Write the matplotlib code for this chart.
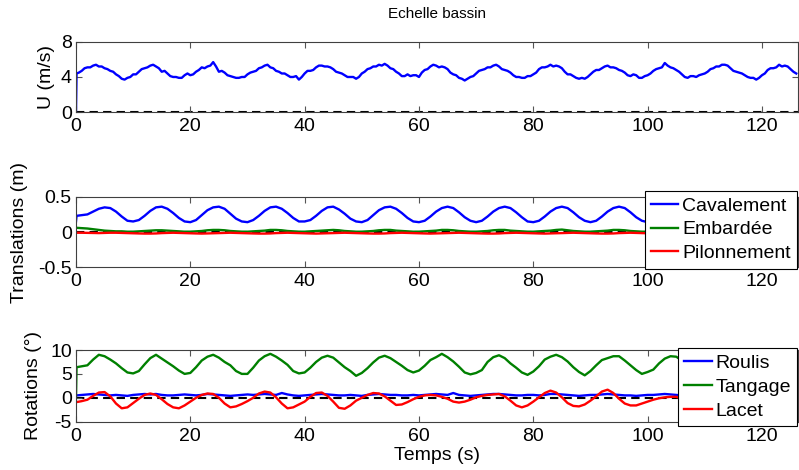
import numpy as np
import matplotlib
matplotlib.use("Agg")
import matplotlib.pyplot as plt

plt.rcParams['font.family'] = ['Liberation Sans', 'DejaVu Sans']

# time (s): initial step sample then 1 s sampling
time = np.r_[0.0, 0.1, np.arange(1, 127)]
# extra half-second samples of the wind speed (t = 0.5 ... 125.5)
time_mid = np.arange(0.5, 126, 1.0)

U = [0.0, 4.4,
     4.7, 5.1, 5.3, 5.2, 5.0, 4.7, 4.3, 3.8, 3.9, 4.3,
     4.6, 5.0, 5.3, 5.2, 4.6, 4.4, 4.0, 3.9, 4.2, 4.2,
     4.6, 5.1, 5.2, 5.7, 4.6, 4.5, 4.1, 3.9, 4.0, 4.3,
     4.6, 5.0, 5.3, 5.1, 4.7, 4.4, 4.2, 4.0, 3.7, 4.4,
     4.7, 5.1, 5.3, 5.2, 4.9, 4.5, 4.2, 4.0, 3.8, 4.4,
     4.9, 5.2, 5.4, 5.5, 5.0, 4.6, 4.1, 4.3, 4.2, 4.0,
     4.8, 5.2, 5.3, 5.2, 4.9, 4.3, 3.9, 3.6, 4.0, 4.4,
     4.8, 5.1, 5.3, 5.2, 4.8, 4.5, 4.0, 3.9, 4.1, 4.3,
     4.9, 5.1, 5.4, 5.3, 5.0, 4.3, 4.1, 3.8, 3.8, 4.3,
     4.8, 5.0, 5.3, 5.1, 4.8, 4.5, 4.1, 4.2, 3.9, 4.2,
     4.7, 5.0, 5.6, 5.1, 4.8, 4.3, 3.9, 4.1, 4.2, 4.4,
     4.9, 5.2, 5.4, 5.3, 4.7, 4.5, 4.2, 3.9, 3.7, 4.2,
     4.8, 5.0, 5.4, 5.3, 4.9, 4.4]

U_mid = [4.5,
     5.0, 5.1, 5.4, 5.2, 4.9, 4.6, 4.1, 3.7, 4.0, 4.3,
     4.9, 5.1, 5.4, 5.0, 4.7, 4.1, 4.0, 3.9, 4.4, 4.3,
     4.8, 5.0, 5.3, 5.2, 4.7, 4.2, 4.0, 3.9, 4.0, 4.5,
     4.7, 5.1, 5.4, 5.0, 4.6, 4.4, 4.0, 4.1, 4.0, 4.7,
     4.8, 5.3, 5.2, 5.1, 4.6, 4.4, 4.0, 4.0, 4.0, 4.6,
     5.0, 5.2, 5.3, 5.3, 4.9, 4.4, 4.1, 4.1, 4.2, 4.5,
     4.9, 5.4, 5.1, 5.1, 4.5, 4.2, 3.8, 3.8, 4.1, 4.7,
     4.9, 5.1, 5.4, 4.9, 4.7, 4.2, 4.0, 3.9, 4.1, 4.5,
     5.1, 5.2, 5.2, 5.2, 4.6, 4.3, 3.9, 3.9, 4.0, 4.6,
     4.8, 5.2, 5.1, 5.0, 4.7, 4.2, 4.3, 3.9, 4.1, 4.4,
     4.9, 5.1, 5.3, 5.0, 4.6, 4.0, 4.1, 4.0, 4.3, 4.6,
     5.0, 5.2, 5.4, 5.0, 4.6, 4.4, 4.0, 3.9, 3.9, 4.4,
     5.0, 5.1, 5.2, 5.2, 4.6]

cavalement = [0.15, 0.23,
     0.24, 0.25, 0.29, 0.33, 0.35, 0.34, 0.29, 0.22, 0.16, 0.15,
     0.17, 0.23, 0.30, 0.35, 0.36, 0.33, 0.27, 0.20, 0.15, 0.14,
     0.17, 0.24, 0.31, 0.35, 0.36, 0.33, 0.26, 0.19, 0.15, 0.14,
     0.17, 0.23, 0.30, 0.35, 0.36, 0.33, 0.27, 0.20, 0.15, 0.15,
     0.17, 0.23, 0.30, 0.35, 0.36, 0.32, 0.26, 0.19, 0.15, 0.14,
     0.17, 0.24, 0.31, 0.35, 0.36, 0.33, 0.27, 0.20, 0.15, 0.14,
     0.16, 0.22, 0.29, 0.34, 0.36, 0.34, 0.28, 0.21, 0.16, 0.14,
     0.16, 0.22, 0.29, 0.34, 0.36, 0.34, 0.28, 0.21, 0.15, 0.14,
     0.16, 0.22, 0.29, 0.34, 0.36, 0.34, 0.28, 0.21, 0.16, 0.14,
     0.16, 0.22, 0.29, 0.34, 0.36, 0.34, 0.28, 0.21, 0.16, 0.14,
     0.16, 0.22, 0.29, 0.34, 0.36, 0.34, 0.28, 0.21, 0.16, 0.14,
     0.16, 0.22, 0.29, 0.34, 0.36, 0.34, 0.28, 0.21, 0.16, 0.14,
     0.16, 0.22, 0.29, 0.34, 0.36, 0.34]

embardee = [0.06, 0.06,
     0.055, 0.05, 0.04, 0.03, 0.02, 0.015, 0.01, 0.01, 0.005, 0.005,
     0.01, 0.015, 0.02, 0.025, 0.025, 0.02, 0.015, 0.01, 0.005, 0.005,
     0.01, 0.015, 0.025, 0.03, 0.03, 0.025, 0.015, 0.01, 0.005, 0.005,
     0.01, 0.015, 0.02, 0.03, 0.03, 0.025, 0.015, 0.01, 0.005, 0.005,
     0.01, 0.015, 0.02, 0.025, 0.03, 0.025, 0.015, 0.01, 0.005, 0.005,
     0.01, 0.015, 0.025, 0.03, 0.03, 0.02, 0.015, 0.01, 0.005, 0.005,
     0.01, 0.015, 0.02, 0.03, 0.03, 0.025, 0.015, 0.01, 0.005, 0.005,
     0.01, 0.015, 0.025, 0.03, 0.03, 0.02, 0.015, 0.01, 0.005, 0.005,
     0.01, 0.015, 0.02, 0.03, 0.035, 0.025, 0.015, 0.01, 0.005, 0.005,
     0.01, 0.015, 0.02, 0.03, 0.03, 0.025, 0.015, 0.01, 0.005, 0.005,
     0.01, 0.015, 0.025, 0.03, 0.03, 0.02, 0.015, 0.01, 0.005, 0.005,
     0.01, 0.015, 0.02, 0.03, 0.03, 0.025, 0.015, 0.01, 0.005, 0.005,
     0.01, 0.015, 0.02, 0.03, 0.03, 0.025]

pilonnement = [-0.01, -0.01,
     -0.01, -0.012, -0.015, -0.015, -0.012, -0.01, -0.01, -0.012, -0.015, -0.018,
     -0.02, -0.022, -0.022, -0.02, -0.015, -0.012, -0.01, -0.012, -0.015, -0.018,
     -0.02, -0.022, -0.02, -0.018, -0.015, -0.012, -0.01, -0.012, -0.015, -0.018,
     -0.02, -0.022, -0.022, -0.02, -0.015, -0.012, -0.01, -0.012, -0.015, -0.018,
     -0.02, -0.022, -0.02, -0.018, -0.015, -0.012, -0.01, -0.012, -0.015, -0.018,
     -0.02, -0.022, -0.022, -0.02, -0.015, -0.012, -0.01, -0.012, -0.015, -0.018,
     -0.02, -0.022, -0.02, -0.018, -0.015, -0.012, -0.01, -0.012, -0.015, -0.018,
     -0.02, -0.022, -0.022, -0.02, -0.015, -0.012, -0.01, -0.012, -0.015, -0.018,
     -0.02, -0.022, -0.02, -0.018, -0.015, -0.012, -0.01, -0.012, -0.015, -0.018,
     -0.02, -0.022, -0.022, -0.02, -0.015, -0.012, -0.01, -0.012, -0.015, -0.018,
     -0.02, -0.022, -0.02, -0.018, -0.015, -0.012, -0.01, -0.012, -0.015, -0.018,
     -0.02, -0.022, -0.022, -0.02, -0.015, -0.012, -0.01, -0.012, -0.015, -0.018,
     -0.02, -0.022, -0.02, -0.018, -0.015, -0.012]

tangage = [0.0, 6.4,
     6.6, 6.8, 8.0, 9.0, 8.7, 8.0, 7.2, 6.2, 5.3, 5.1,
     5.6, 7.0, 8.3, 9.0, 8.2, 7.4, 6.6, 5.7, 5.0, 5.2,
     6.4, 7.8, 8.6, 9.0, 8.4, 7.5, 6.8, 5.6, 5.0, 5.0,
     6.3, 7.8, 8.7, 9.2, 8.6, 7.8, 6.9, 5.6, 5.1, 5.3,
     6.3, 7.5, 8.4, 8.8, 8.4, 7.4, 6.4, 5.6, 4.6, 5.2,
     6.2, 7.4, 8.4, 8.8, 8.3, 7.5, 6.7, 5.8, 5.3, 5.7,
     6.7, 7.9, 8.5, 9.2, 8.5, 7.6, 6.5, 5.3, 4.9, 5.2,
     5.8, 7.5, 8.5, 8.9, 8.3, 7.2, 6.3, 5.3, 4.8, 5.5,
     6.6, 8.0, 8.6, 9.0, 8.5, 7.6, 6.4, 5.4, 4.7, 5.6,
     6.8, 7.9, 8.3, 8.7, 8.7, 7.8, 6.8, 5.8, 5.0, 5.4,
     5.9, 7.2, 8.2, 8.7, 8.6, 7.8, 6.8, 5.8, 5.0, 5.4,
     6.6, 7.8, 8.6, 8.9, 8.3, 7.4, 6.5, 5.5, 4.9, 5.5,
     6.7, 7.8, 8.5, 8.9, 8.6, 8.1]

roulis = [0.5, 0.5,
     0.6, 0.7, 0.8, 0.7, 0.6, 0.5, 0.6, 0.5, 0.4, 0.6,
     0.7, 0.8, 0.7, 0.8, 0.6, 0.5, 0.5, 0.6, 0.7, 0.6,
     0.5, 0.6, 0.8, 0.7, 0.6, 0.5, 0.4, 0.5, 0.6, 0.7,
     0.6, 0.7, 0.8, 0.7, 0.6, 1.0, 0.7, 0.5, 0.4, 0.5,
     0.6, 0.7, 0.8, 0.7, 0.6, 0.5, 0.5, 0.6, 0.5, 0.4,
     0.6, 0.7, 0.8, 0.7, 0.6, 0.6, 0.5, 0.5, 0.6, 0.5,
     0.6, 0.7, 0.8, 0.7, 0.6, 1.0, 0.6, 0.5, 0.4, 0.5,
     0.6, 0.7, 0.8, 0.8, 0.7, 0.6, 0.5, 0.5, 0.6, 0.6,
     0.5, 0.6, 0.8, 0.8, 0.7, 0.6, 0.5, 0.4, 0.5, 0.6,
     0.6, 0.7, 0.8, 0.7, 0.6, 0.5, 0.5, 0.4, 0.5, 0.6,
     0.6, 0.7, 0.8, 0.7, 0.6, 0.5, 0.5, 0.4, 0.5, 0.6,
     0.6, 0.7, 0.8, 0.7, 0.6, 0.5, 0.5, 0.4, 0.5, 0.6,
     0.6, 0.7, 0.8, 0.7, 0.6, 0.5]

lacet = [-0.8, -0.9,
     -0.7, -0.4, 0.4, 1.1, 1.2, 0.3, -1.2, -2.2, -2.0, -1.1,
     -0.2, 0.6, 0.9, 0.6, -0.3, -1.3, -2.0, -2.2, -1.6, -0.8,
     0.0, 0.6, 0.9, 0.8, 0.0, -1.2, -2.0, -1.8, -1.3, -0.7,
     0.0, 0.9, 1.3, 1.1, 0.1, -1.2, -2.2, -2.0, -1.4, -0.8,
     0.2, 1.0, 1.1, 0.4, -0.8, -2.1, -2.3, -1.6, -0.6, 0.0,
     0.6, 1.0, 0.9, 0.3, -0.6, -1.5, -1.4, -0.9, -0.3, 0.2,
     0.5, 0.6, 0.5, 0.2, -0.2, -0.8, -1.0, -0.8, -0.4, 0.1,
     0.4, 0.6, 0.7, 0.8, 0.3, -0.6, -1.6, -2.0, -1.6, -0.8,
     0.1, 1.0, 1.5, 1.1, 0.1, -1.1, -1.7, -1.8, -1.4, -0.6,
     0.3, 1.3, 1.7, 1.0, -0.2, -1.2, -1.6, -1.6, -1.2, -0.8,
     -0.4, -0.1, 0.1, 0.2, 0.2, -0.2, -0.9, -1.5, -1.6, -1.0,
     -0.3, 0.4, 0.9, 0.6, -0.3, -1.2, -1.8, -1.7, -1.2, -0.5,
     0.2, 0.7, 0.8, 0.1, -0.9, -1.6]

xticks = [0, 20, 40, 60, 80, 100, 120]
xlim = (0, 126.3)

BLUE, GREEN, RED = (0, 0, 1), (0, 0.5, 0), (1, 0, 0)
FS = 14

# merge wind samples in time order
tU = np.r_[time, time_mid]
vU = np.r_[U, U_mid]
order = np.argsort(tU, kind='stable')
tU, vU = tU[order], vU[order]

fig = plt.figure(figsize=(7.99, 4.70), dpi=100)
L, W = 0.0951, 0.9036
ax1 = fig.add_axes([L, 0.7617, W, 0.149])
ax2 = fig.add_axes([L, 0.4313, W, 0.150])
ax3 = fig.add_axes([L, 0.1028, W, 0.1525])

def style(ax, yticks, ylim, ylabels):
    ax.set_xlim(*xlim)
    ax.set_ylim(*ylim)
    ax.set_xticks(xticks)
    ax.set_yticks(yticks)
    ax.set_yticklabels(ylabels)
    ax.tick_params(direction='in', top=True, right=True, length=4,
                   width=0.8, color='#555555', labelsize=FS)
    ax.tick_params(axis='x', pad=4.3)
    ax.tick_params(axis='y', pad=3.0)
    for s in ax.spines.values():
        s.set_color('#404040')
        s.set_linewidth(0.8)
    ax.axhline(0, color='k', ls=(0, (4, 2.5)), lw=1.5, zorder=1)

def legend(ax, anchor):
    leg = ax.legend(loc='upper right', bbox_to_anchor=anchor,
                    fontsize=FS, frameon=True, fancybox=False, edgecolor='k',
                    framealpha=1, handlelength=1.4, handletextpad=0.2,
                    labelspacing=0.32, borderpad=0.32, borderaxespad=0)
    leg.get_frame().set_linewidth(0.8)
    return leg

lw = 1.7
ax1.plot(tU, vU, color=BLUE, lw=lw)
style(ax1, [0, 4, 8], (0, 8), ['0', '4', '8'])
ax1.set_ylabel('U (m/s)', fontsize=FS)
ax1.yaxis.set_label_coords(-0.029, 0.5)
ax1.set_title('Echelle bassin', fontsize=11, pad=17)

ax2.plot(time, cavalement, color=BLUE, lw=lw, label='Cavalement')
ax2.plot(time, embardee, color=GREEN, lw=lw, label='Embardée')
ax2.plot(time, pilonnement, color=RED, lw=lw, label='Pilonnement')
style(ax2, [-0.5, 0, 0.5], (-0.5, 0.5), ['-0.5', '0', '0.5'])
ax2.set_ylabel('Translations (m)', fontsize=FS)
ax2.yaxis.set_label_coords(-0.0665, 0.5)
legend(ax2, (0.9986, 1.085))

ax3.plot(time, roulis, color=BLUE, lw=lw, label='Roulis')
ax3.plot(time, tangage, color=GREEN, lw=lw, label='Tangage')
ax3.plot(time, lacet, color=RED, lw=lw, label='Lacet')
style(ax3, [-5, 0, 5, 10], (-5, 10), ['-5', '0', '5', '10'])
ax3.set_ylabel('Rotations (°)', fontsize=FS)
ax3.yaxis.set_label_coords(-0.047, 0.5)
ax3.set_xlabel('Temps (s)', fontsize=FS, labelpad=2)
legend(ax3, (0.999, 1.024))

fig.savefig('out.png', dpi=100)
